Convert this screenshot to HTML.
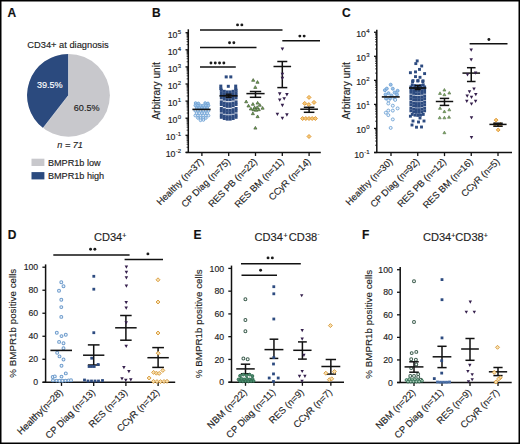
<!DOCTYPE html>
<html><head><meta charset="utf-8"><style>
html,body{margin:0;padding:0;background:#fff;}
body{width:520px;height:444px;overflow:hidden;position:relative;}
svg{display:block;font-family:"Liberation Sans", sans-serif;}
text{stroke:#1e1e1e;stroke-width:0.15px;}
text.w{stroke:#fff;}
</style></head><body>
<svg width="520" height="444" viewBox="0 0 520 444" font-family='"Liberation Sans", sans-serif'>
<rect x="0" y="0" width="520" height="444" fill="#fff"/>
<text x="7.40" y="17.20" font-size="12" text-anchor="start" font-weight="bold" fill="#111">A</text>
<text x="27.30" y="47.60" font-size="9.3" text-anchor="start" font-weight="normal" fill="#1e1e1e">CD34+ at diagnosis</text>
<circle cx="68.5" cy="95.3" r="41.4" fill="#c8c8cc"/>
<path d="M68.5,95.3 L68.5,53.9 A41.4,41.4 0 0 0 43.13,128.01 Z" fill="#2b4a7e"/>
<line x1="68.5" y1="95.3" x2="68.5" y2="53.9" stroke="#eee" stroke-width="0.6"/>
<line x1="68.5" y1="95.3" x2="43.13" y2="128.01" stroke="#eee" stroke-width="0.6"/>
<text class="w" x="49.8" y="87.7" font-size="9.1" text-anchor="middle" fill="#fff">39.5%</text>
<text x="73.80" y="111.30" font-size="9.1" text-anchor="start" font-weight="normal" fill="#1e1e1e">60.5%</text>
<text x="57.30" y="148.30" font-size="9.1" text-anchor="start" font-weight="normal" fill="#1e1e1e" font-style="italic">n = 71</text>
<rect x="31.5" y="158.7" width="12.9" height="7.3" fill="#c8c8cc"/>
<rect x="31.5" y="172.1" width="12.9" height="7.3" fill="#2b4a7e"/>
<text x="47.90" y="165.60" font-size="9.15" text-anchor="start" font-weight="normal" fill="#1e1e1e">BMPR1b low</text>
<text x="47.90" y="178.90" font-size="9.15" text-anchor="start" font-weight="normal" fill="#1e1e1e">BMPR1b high</text>
<text x="152.00" y="17.30" font-size="12" text-anchor="start" font-weight="bold" fill="#111">B</text>
<line x1="188.30" y1="29.30" x2="188.30" y2="152.40" stroke="#111" stroke-width="1.5"/>
<line x1="185.70" y1="152.40" x2="320.80" y2="152.40" stroke="#111" stroke-width="1.5"/>
<line x1="185.50" y1="152.40" x2="188.30" y2="152.40" stroke="#111" stroke-width="1.3"/>
<text x="181.10" y="157.40" font-size="8.8" text-anchor="end" fill="#1e1e1e">10<tspan font-size="6.0" dx="0.3" dy="-4.0">-2</tspan></text>
<line x1="186.60" y1="147.25" x2="188.30" y2="147.25" stroke="#111" stroke-width="0.8"/>
<line x1="186.60" y1="144.24" x2="188.30" y2="144.24" stroke="#111" stroke-width="0.8"/>
<line x1="186.60" y1="142.10" x2="188.30" y2="142.10" stroke="#111" stroke-width="0.8"/>
<line x1="186.60" y1="140.45" x2="188.30" y2="140.45" stroke="#111" stroke-width="0.8"/>
<line x1="186.60" y1="139.09" x2="188.30" y2="139.09" stroke="#111" stroke-width="0.8"/>
<line x1="186.60" y1="137.95" x2="188.30" y2="137.95" stroke="#111" stroke-width="0.8"/>
<line x1="186.60" y1="136.96" x2="188.30" y2="136.96" stroke="#111" stroke-width="0.8"/>
<line x1="186.60" y1="136.08" x2="188.30" y2="136.08" stroke="#111" stroke-width="0.8"/>
<line x1="185.50" y1="135.30" x2="188.30" y2="135.30" stroke="#111" stroke-width="1.3"/>
<text x="181.10" y="140.30" font-size="8.8" text-anchor="end" fill="#1e1e1e">10<tspan font-size="6.0" dx="0.3" dy="-4.0">-1</tspan></text>
<line x1="186.60" y1="130.15" x2="188.30" y2="130.15" stroke="#111" stroke-width="0.8"/>
<line x1="186.60" y1="127.14" x2="188.30" y2="127.14" stroke="#111" stroke-width="0.8"/>
<line x1="186.60" y1="125.00" x2="188.30" y2="125.00" stroke="#111" stroke-width="0.8"/>
<line x1="186.60" y1="123.35" x2="188.30" y2="123.35" stroke="#111" stroke-width="0.8"/>
<line x1="186.60" y1="121.99" x2="188.30" y2="121.99" stroke="#111" stroke-width="0.8"/>
<line x1="186.60" y1="120.85" x2="188.30" y2="120.85" stroke="#111" stroke-width="0.8"/>
<line x1="186.60" y1="119.86" x2="188.30" y2="119.86" stroke="#111" stroke-width="0.8"/>
<line x1="186.60" y1="118.98" x2="188.30" y2="118.98" stroke="#111" stroke-width="0.8"/>
<line x1="185.50" y1="118.20" x2="188.30" y2="118.20" stroke="#111" stroke-width="1.3"/>
<text x="181.10" y="123.20" font-size="8.8" text-anchor="end" fill="#1e1e1e">10<tspan font-size="6.0" dx="0.3" dy="-4.0">0</tspan></text>
<line x1="186.60" y1="113.05" x2="188.30" y2="113.05" stroke="#111" stroke-width="0.8"/>
<line x1="186.60" y1="110.04" x2="188.30" y2="110.04" stroke="#111" stroke-width="0.8"/>
<line x1="186.60" y1="107.90" x2="188.30" y2="107.90" stroke="#111" stroke-width="0.8"/>
<line x1="186.60" y1="106.25" x2="188.30" y2="106.25" stroke="#111" stroke-width="0.8"/>
<line x1="186.60" y1="104.89" x2="188.30" y2="104.89" stroke="#111" stroke-width="0.8"/>
<line x1="186.60" y1="103.75" x2="188.30" y2="103.75" stroke="#111" stroke-width="0.8"/>
<line x1="186.60" y1="102.76" x2="188.30" y2="102.76" stroke="#111" stroke-width="0.8"/>
<line x1="186.60" y1="101.88" x2="188.30" y2="101.88" stroke="#111" stroke-width="0.8"/>
<line x1="185.50" y1="101.10" x2="188.30" y2="101.10" stroke="#111" stroke-width="1.3"/>
<text x="181.10" y="106.10" font-size="8.8" text-anchor="end" fill="#1e1e1e">10<tspan font-size="6.0" dx="0.3" dy="-4.0">1</tspan></text>
<line x1="186.60" y1="95.95" x2="188.30" y2="95.95" stroke="#111" stroke-width="0.8"/>
<line x1="186.60" y1="92.94" x2="188.30" y2="92.94" stroke="#111" stroke-width="0.8"/>
<line x1="186.60" y1="90.80" x2="188.30" y2="90.80" stroke="#111" stroke-width="0.8"/>
<line x1="186.60" y1="89.15" x2="188.30" y2="89.15" stroke="#111" stroke-width="0.8"/>
<line x1="186.60" y1="87.79" x2="188.30" y2="87.79" stroke="#111" stroke-width="0.8"/>
<line x1="186.60" y1="86.65" x2="188.30" y2="86.65" stroke="#111" stroke-width="0.8"/>
<line x1="186.60" y1="85.66" x2="188.30" y2="85.66" stroke="#111" stroke-width="0.8"/>
<line x1="186.60" y1="84.78" x2="188.30" y2="84.78" stroke="#111" stroke-width="0.8"/>
<line x1="185.50" y1="84.00" x2="188.30" y2="84.00" stroke="#111" stroke-width="1.3"/>
<text x="181.10" y="89.00" font-size="8.8" text-anchor="end" fill="#1e1e1e">10<tspan font-size="6.0" dx="0.3" dy="-4.0">2</tspan></text>
<line x1="186.60" y1="78.85" x2="188.30" y2="78.85" stroke="#111" stroke-width="0.8"/>
<line x1="186.60" y1="75.84" x2="188.30" y2="75.84" stroke="#111" stroke-width="0.8"/>
<line x1="186.60" y1="73.70" x2="188.30" y2="73.70" stroke="#111" stroke-width="0.8"/>
<line x1="186.60" y1="72.05" x2="188.30" y2="72.05" stroke="#111" stroke-width="0.8"/>
<line x1="186.60" y1="70.69" x2="188.30" y2="70.69" stroke="#111" stroke-width="0.8"/>
<line x1="186.60" y1="69.55" x2="188.30" y2="69.55" stroke="#111" stroke-width="0.8"/>
<line x1="186.60" y1="68.56" x2="188.30" y2="68.56" stroke="#111" stroke-width="0.8"/>
<line x1="186.60" y1="67.68" x2="188.30" y2="67.68" stroke="#111" stroke-width="0.8"/>
<line x1="185.50" y1="66.90" x2="188.30" y2="66.90" stroke="#111" stroke-width="1.3"/>
<text x="181.10" y="71.90" font-size="8.8" text-anchor="end" fill="#1e1e1e">10<tspan font-size="6.0" dx="0.3" dy="-4.0">3</tspan></text>
<line x1="186.60" y1="61.75" x2="188.30" y2="61.75" stroke="#111" stroke-width="0.8"/>
<line x1="186.60" y1="58.74" x2="188.30" y2="58.74" stroke="#111" stroke-width="0.8"/>
<line x1="186.60" y1="56.60" x2="188.30" y2="56.60" stroke="#111" stroke-width="0.8"/>
<line x1="186.60" y1="54.95" x2="188.30" y2="54.95" stroke="#111" stroke-width="0.8"/>
<line x1="186.60" y1="53.59" x2="188.30" y2="53.59" stroke="#111" stroke-width="0.8"/>
<line x1="186.60" y1="52.45" x2="188.30" y2="52.45" stroke="#111" stroke-width="0.8"/>
<line x1="186.60" y1="51.46" x2="188.30" y2="51.46" stroke="#111" stroke-width="0.8"/>
<line x1="186.60" y1="50.58" x2="188.30" y2="50.58" stroke="#111" stroke-width="0.8"/>
<line x1="185.50" y1="49.80" x2="188.30" y2="49.80" stroke="#111" stroke-width="1.3"/>
<text x="181.10" y="54.80" font-size="8.8" text-anchor="end" fill="#1e1e1e">10<tspan font-size="6.0" dx="0.3" dy="-4.0">4</tspan></text>
<line x1="186.60" y1="44.65" x2="188.30" y2="44.65" stroke="#111" stroke-width="0.8"/>
<line x1="186.60" y1="41.64" x2="188.30" y2="41.64" stroke="#111" stroke-width="0.8"/>
<line x1="186.60" y1="39.50" x2="188.30" y2="39.50" stroke="#111" stroke-width="0.8"/>
<line x1="186.60" y1="37.85" x2="188.30" y2="37.85" stroke="#111" stroke-width="0.8"/>
<line x1="186.60" y1="36.49" x2="188.30" y2="36.49" stroke="#111" stroke-width="0.8"/>
<line x1="186.60" y1="35.35" x2="188.30" y2="35.35" stroke="#111" stroke-width="0.8"/>
<line x1="186.60" y1="34.36" x2="188.30" y2="34.36" stroke="#111" stroke-width="0.8"/>
<line x1="186.60" y1="33.48" x2="188.30" y2="33.48" stroke="#111" stroke-width="0.8"/>
<line x1="185.50" y1="32.70" x2="188.30" y2="32.70" stroke="#111" stroke-width="1.3"/>
<text x="181.10" y="37.70" font-size="8.8" text-anchor="end" fill="#1e1e1e">10<tspan font-size="6.0" dx="0.3" dy="-4.0">5</tspan></text>
<line x1="201.90" y1="152.40" x2="201.90" y2="156.00" stroke="#111" stroke-width="1.3"/>
<line x1="228.70" y1="152.40" x2="228.70" y2="156.00" stroke="#111" stroke-width="1.3"/>
<line x1="255.50" y1="152.40" x2="255.50" y2="156.00" stroke="#111" stroke-width="1.3"/>
<line x1="282.30" y1="152.40" x2="282.30" y2="156.00" stroke="#111" stroke-width="1.3"/>
<line x1="309.10" y1="152.40" x2="309.10" y2="156.00" stroke="#111" stroke-width="1.3"/>
<text transform="translate(204.10,162.20) rotate(-45)" font-size="9.4" text-anchor="end" fill="#1e1e1e">Healthy (n=37)</text>
<text transform="translate(230.90,162.20) rotate(-45)" font-size="9.4" text-anchor="end" fill="#1e1e1e">CP Diag (n=75)</text>
<text transform="translate(257.70,162.20) rotate(-45)" font-size="9.4" text-anchor="end" fill="#1e1e1e">RES PB (n=22)</text>
<text transform="translate(284.50,162.20) rotate(-45)" font-size="9.4" text-anchor="end" fill="#1e1e1e">RES BM (n=11)</text>
<text transform="translate(311.30,162.20) rotate(-45)" font-size="9.4" text-anchor="end" fill="#1e1e1e">CCyR (n=14)</text>
<text transform="translate(160.30,91.00) rotate(-90)" font-size="10" text-anchor="middle" textLength="57.4" lengthAdjust="spacingAndGlyphs" fill="#1e1e1e">Arbitrary unit</text>
<line x1="200.00" y1="30.00" x2="282.50" y2="30.00" stroke="#111" stroke-width="1.5"/>
<circle cx="237.55" cy="24.90" r="1.45" fill="#1a1a1a"/>
<circle cx="241.85" cy="24.90" r="1.45" fill="#1a1a1a"/>
<line x1="200.00" y1="47.40" x2="256.50" y2="47.40" stroke="#111" stroke-width="1.5"/>
<circle cx="229.55" cy="42.70" r="1.45" fill="#1a1a1a"/>
<circle cx="233.85" cy="42.70" r="1.45" fill="#1a1a1a"/>
<line x1="200.00" y1="67.00" x2="235.80" y2="67.00" stroke="#111" stroke-width="1.5"/>
<circle cx="210.95" cy="63.00" r="1.45" fill="#1a1a1a"/>
<circle cx="215.25" cy="63.00" r="1.45" fill="#1a1a1a"/>
<circle cx="219.55" cy="63.00" r="1.45" fill="#1a1a1a"/>
<circle cx="223.85" cy="63.00" r="1.45" fill="#1a1a1a"/>
<line x1="282.30" y1="40.80" x2="320.00" y2="40.80" stroke="#111" stroke-width="1.5"/>
<circle cx="299.85" cy="36.10" r="1.45" fill="#1a1a1a"/>
<circle cx="304.15" cy="36.10" r="1.45" fill="#1a1a1a"/>
<circle cx="195.28" cy="110.80" r="1.35" fill="#dde9f7" stroke="#6a9fd3" stroke-width="0.85"/>
<circle cx="197.93" cy="110.80" r="1.35" fill="#dde9f7" stroke="#6a9fd3" stroke-width="0.85"/>
<circle cx="200.58" cy="110.80" r="1.35" fill="#dde9f7" stroke="#6a9fd3" stroke-width="0.85"/>
<circle cx="203.22" cy="110.80" r="1.35" fill="#dde9f7" stroke="#6a9fd3" stroke-width="0.85"/>
<circle cx="205.88" cy="110.80" r="1.35" fill="#dde9f7" stroke="#6a9fd3" stroke-width="0.85"/>
<circle cx="208.53" cy="110.80" r="1.35" fill="#dde9f7" stroke="#6a9fd3" stroke-width="0.85"/>
<circle cx="196.60" cy="113.20" r="1.35" fill="#dde9f7" stroke="#6a9fd3" stroke-width="0.85"/>
<circle cx="199.25" cy="113.20" r="1.35" fill="#dde9f7" stroke="#6a9fd3" stroke-width="0.85"/>
<circle cx="201.90" cy="113.20" r="1.35" fill="#dde9f7" stroke="#6a9fd3" stroke-width="0.85"/>
<circle cx="204.55" cy="113.20" r="1.35" fill="#dde9f7" stroke="#6a9fd3" stroke-width="0.85"/>
<circle cx="207.20" cy="113.20" r="1.35" fill="#dde9f7" stroke="#6a9fd3" stroke-width="0.85"/>
<circle cx="195.28" cy="115.60" r="1.35" fill="#dde9f7" stroke="#6a9fd3" stroke-width="0.85"/>
<circle cx="197.93" cy="115.60" r="1.35" fill="#dde9f7" stroke="#6a9fd3" stroke-width="0.85"/>
<circle cx="200.58" cy="115.60" r="1.35" fill="#dde9f7" stroke="#6a9fd3" stroke-width="0.85"/>
<circle cx="203.22" cy="115.60" r="1.35" fill="#dde9f7" stroke="#6a9fd3" stroke-width="0.85"/>
<circle cx="205.88" cy="115.60" r="1.35" fill="#dde9f7" stroke="#6a9fd3" stroke-width="0.85"/>
<circle cx="208.53" cy="115.60" r="1.35" fill="#dde9f7" stroke="#6a9fd3" stroke-width="0.85"/>
<circle cx="197.93" cy="118.00" r="1.35" fill="#dde9f7" stroke="#6a9fd3" stroke-width="0.85"/>
<circle cx="200.58" cy="118.00" r="1.35" fill="#dde9f7" stroke="#6a9fd3" stroke-width="0.85"/>
<circle cx="203.22" cy="118.00" r="1.35" fill="#dde9f7" stroke="#6a9fd3" stroke-width="0.85"/>
<circle cx="205.88" cy="118.00" r="1.35" fill="#dde9f7" stroke="#6a9fd3" stroke-width="0.85"/>
<circle cx="200.50" cy="120.30" r="1.35" fill="#dde9f7" stroke="#6a9fd3" stroke-width="0.85"/>
<circle cx="203.40" cy="120.00" r="1.35" fill="#dde9f7" stroke="#6a9fd3" stroke-width="0.85"/>
<circle cx="195.60" cy="103.00" r="1.35" fill="#a3c6e8" stroke="#6a9fd3" stroke-width="0.85"/>
<circle cx="198.40" cy="103.40" r="1.35" fill="#a3c6e8" stroke="#6a9fd3" stroke-width="0.85"/>
<circle cx="205.20" cy="103.00" r="1.35" fill="#a3c6e8" stroke="#6a9fd3" stroke-width="0.85"/>
<circle cx="208.00" cy="103.40" r="1.35" fill="#a3c6e8" stroke="#6a9fd3" stroke-width="0.85"/>
<circle cx="195.28" cy="105.50" r="1.35" fill="#a3c6e8" stroke="#6a9fd3" stroke-width="0.85"/>
<circle cx="197.93" cy="105.50" r="1.35" fill="#a3c6e8" stroke="#6a9fd3" stroke-width="0.85"/>
<circle cx="200.58" cy="105.50" r="1.35" fill="#a3c6e8" stroke="#6a9fd3" stroke-width="0.85"/>
<circle cx="203.22" cy="105.50" r="1.35" fill="#a3c6e8" stroke="#6a9fd3" stroke-width="0.85"/>
<circle cx="205.88" cy="105.50" r="1.35" fill="#a3c6e8" stroke="#6a9fd3" stroke-width="0.85"/>
<circle cx="208.53" cy="105.50" r="1.35" fill="#a3c6e8" stroke="#6a9fd3" stroke-width="0.85"/>
<circle cx="196.60" cy="107.90" r="1.35" fill="#a3c6e8" stroke="#6a9fd3" stroke-width="0.85"/>
<circle cx="199.25" cy="107.90" r="1.35" fill="#a3c6e8" stroke="#6a9fd3" stroke-width="0.85"/>
<circle cx="201.90" cy="107.90" r="1.35" fill="#a3c6e8" stroke="#6a9fd3" stroke-width="0.85"/>
<circle cx="204.55" cy="107.90" r="1.35" fill="#a3c6e8" stroke="#6a9fd3" stroke-width="0.85"/>
<circle cx="207.20" cy="107.90" r="1.35" fill="#a3c6e8" stroke="#6a9fd3" stroke-width="0.85"/>
<line x1="192.40" y1="109.40" x2="210.60" y2="109.40" stroke="#111" stroke-width="1.6"/>
<rect x="224.70" y="75.40" width="3.0" height="3.0" fill="#2d4b80"/>
<rect x="229.30" y="75.40" width="3.0" height="3.0" fill="#2d4b80"/>
<rect x="219.30" y="84.60" width="3.0" height="3.0" fill="#2d4b80"/>
<rect x="226.80" y="84.80" width="3.0" height="3.0" fill="#2d4b80"/>
<rect x="234.20" y="84.60" width="3.0" height="3.0" fill="#2d4b80"/>
<rect x="219.30" y="87.10" width="3.0" height="3.0" fill="#2d4b80"/>
<rect x="234.20" y="87.10" width="3.0" height="3.0" fill="#2d4b80"/>
<rect x="219.83" y="88.59" width="3.0" height="3.0" fill="#2d4b80"/>
<rect x="222.78" y="89.81" width="3.0" height="3.0" fill="#2d4b80"/>
<rect x="225.73" y="90.42" width="3.0" height="3.0" fill="#2d4b80"/>
<rect x="228.68" y="90.42" width="3.0" height="3.0" fill="#2d4b80"/>
<rect x="231.63" y="89.81" width="3.0" height="3.0" fill="#2d4b80"/>
<rect x="234.58" y="88.59" width="3.0" height="3.0" fill="#2d4b80"/>
<rect x="219.83" y="91.19" width="3.0" height="3.0" fill="#2d4b80"/>
<rect x="222.78" y="92.41" width="3.0" height="3.0" fill="#2d4b80"/>
<rect x="225.73" y="93.02" width="3.0" height="3.0" fill="#2d4b80"/>
<rect x="228.68" y="93.02" width="3.0" height="3.0" fill="#2d4b80"/>
<rect x="231.63" y="92.41" width="3.0" height="3.0" fill="#2d4b80"/>
<rect x="234.58" y="91.19" width="3.0" height="3.0" fill="#2d4b80"/>
<rect x="219.83" y="93.79" width="3.0" height="3.0" fill="#2d4b80"/>
<rect x="222.78" y="95.01" width="3.0" height="3.0" fill="#2d4b80"/>
<rect x="225.73" y="95.62" width="3.0" height="3.0" fill="#2d4b80"/>
<rect x="228.68" y="95.62" width="3.0" height="3.0" fill="#2d4b80"/>
<rect x="231.63" y="95.01" width="3.0" height="3.0" fill="#2d4b80"/>
<rect x="234.58" y="93.79" width="3.0" height="3.0" fill="#2d4b80"/>
<rect x="219.83" y="96.39" width="3.0" height="3.0" fill="#2d4b80"/>
<rect x="222.78" y="97.61" width="3.0" height="3.0" fill="#2d4b80"/>
<rect x="225.73" y="98.22" width="3.0" height="3.0" fill="#2d4b80"/>
<rect x="228.68" y="98.22" width="3.0" height="3.0" fill="#2d4b80"/>
<rect x="231.63" y="97.61" width="3.0" height="3.0" fill="#2d4b80"/>
<rect x="234.58" y="96.39" width="3.0" height="3.0" fill="#2d4b80"/>
<rect x="219.83" y="100.39" width="3.0" height="3.0" fill="#2d4b80"/>
<rect x="222.78" y="101.61" width="3.0" height="3.0" fill="#2d4b80"/>
<rect x="225.73" y="102.22" width="3.0" height="3.0" fill="#2d4b80"/>
<rect x="228.68" y="102.22" width="3.0" height="3.0" fill="#2d4b80"/>
<rect x="231.63" y="101.61" width="3.0" height="3.0" fill="#2d4b80"/>
<rect x="234.58" y="100.39" width="3.0" height="3.0" fill="#2d4b80"/>
<rect x="219.83" y="102.99" width="3.0" height="3.0" fill="#2d4b80"/>
<rect x="222.78" y="104.21" width="3.0" height="3.0" fill="#2d4b80"/>
<rect x="225.73" y="104.82" width="3.0" height="3.0" fill="#2d4b80"/>
<rect x="228.68" y="104.82" width="3.0" height="3.0" fill="#2d4b80"/>
<rect x="231.63" y="104.21" width="3.0" height="3.0" fill="#2d4b80"/>
<rect x="234.58" y="102.99" width="3.0" height="3.0" fill="#2d4b80"/>
<rect x="219.83" y="106.99" width="3.0" height="3.0" fill="#2d4b80"/>
<rect x="222.78" y="108.21" width="3.0" height="3.0" fill="#2d4b80"/>
<rect x="225.73" y="108.82" width="3.0" height="3.0" fill="#2d4b80"/>
<rect x="228.68" y="108.82" width="3.0" height="3.0" fill="#2d4b80"/>
<rect x="231.63" y="108.21" width="3.0" height="3.0" fill="#2d4b80"/>
<rect x="234.58" y="106.99" width="3.0" height="3.0" fill="#2d4b80"/>
<rect x="219.83" y="109.59" width="3.0" height="3.0" fill="#2d4b80"/>
<rect x="222.78" y="110.81" width="3.0" height="3.0" fill="#2d4b80"/>
<rect x="225.73" y="111.42" width="3.0" height="3.0" fill="#2d4b80"/>
<rect x="228.68" y="111.42" width="3.0" height="3.0" fill="#2d4b80"/>
<rect x="231.63" y="110.81" width="3.0" height="3.0" fill="#2d4b80"/>
<rect x="234.58" y="109.59" width="3.0" height="3.0" fill="#2d4b80"/>
<rect x="219.83" y="113.39" width="3.0" height="3.0" fill="#2d4b80"/>
<rect x="222.78" y="114.61" width="3.0" height="3.0" fill="#2d4b80"/>
<rect x="225.73" y="115.22" width="3.0" height="3.0" fill="#2d4b80"/>
<rect x="228.68" y="115.22" width="3.0" height="3.0" fill="#2d4b80"/>
<rect x="231.63" y="114.61" width="3.0" height="3.0" fill="#2d4b80"/>
<rect x="234.58" y="113.39" width="3.0" height="3.0" fill="#2d4b80"/>
<rect x="219.83" y="115.79" width="3.0" height="3.0" fill="#2d4b80"/>
<rect x="222.78" y="117.01" width="3.0" height="3.0" fill="#2d4b80"/>
<rect x="225.73" y="117.62" width="3.0" height="3.0" fill="#2d4b80"/>
<rect x="228.68" y="117.62" width="3.0" height="3.0" fill="#2d4b80"/>
<rect x="231.63" y="117.01" width="3.0" height="3.0" fill="#2d4b80"/>
<rect x="234.58" y="115.79" width="3.0" height="3.0" fill="#2d4b80"/>
<line x1="219.50" y1="95.80" x2="237.50" y2="95.80" stroke="#111" stroke-width="1.7"/>
<line x1="228.70" y1="94.20" x2="228.70" y2="97.40" stroke="#111" stroke-width="1.3"/>
<line x1="225.70" y1="94.20" x2="231.70" y2="94.20" stroke="#111" stroke-width="1.3"/>
<line x1="225.70" y1="97.40" x2="231.70" y2="97.40" stroke="#111" stroke-width="1.3"/>
<polygon points="253.20,78.58 254.75,81.28 251.65,81.28" fill="#72b04e" stroke="#46583c" stroke-width="0.7"/>
<polygon points="257.50,80.58 259.05,83.28 255.95,83.28" fill="#72b04e" stroke="#46583c" stroke-width="0.7"/>
<polygon points="255.30,85.68 256.85,88.38 253.75,88.38" fill="#72b04e" stroke="#46583c" stroke-width="0.7"/>
<polygon points="246.20,100.08 247.75,102.78 244.65,102.78" fill="#72b04e" stroke="#46583c" stroke-width="0.7"/>
<polygon points="252.90,102.58 254.45,105.28 251.35,105.28" fill="#72b04e" stroke="#46583c" stroke-width="0.7"/>
<polygon points="257.60,101.38 259.15,104.08 256.05,104.08" fill="#72b04e" stroke="#46583c" stroke-width="0.7"/>
<polygon points="248.50,104.28 250.05,106.98 246.95,106.98" fill="#72b04e" stroke="#46583c" stroke-width="0.7"/>
<polygon points="259.80,103.58 261.35,106.28 258.25,106.28" fill="#72b04e" stroke="#46583c" stroke-width="0.7"/>
<polygon points="262.60,106.48 264.15,109.18 261.05,109.18" fill="#72b04e" stroke="#46583c" stroke-width="0.7"/>
<polygon points="250.90,107.28 252.45,109.98 249.35,109.98" fill="#72b04e" stroke="#46583c" stroke-width="0.7"/>
<polygon points="253.50,108.18 255.05,110.88 251.95,110.88" fill="#72b04e" stroke="#46583c" stroke-width="0.7"/>
<polygon points="256.20,108.58 257.75,111.28 254.65,111.28" fill="#72b04e" stroke="#46583c" stroke-width="0.7"/>
<polygon points="258.80,107.98 260.35,110.68 257.25,110.68" fill="#72b04e" stroke="#46583c" stroke-width="0.7"/>
<polygon points="254.60,105.98 256.15,108.68 253.05,108.68" fill="#72b04e" stroke="#46583c" stroke-width="0.7"/>
<polygon points="257.20,105.78 258.75,108.48 255.65,108.48" fill="#72b04e" stroke="#46583c" stroke-width="0.7"/>
<polygon points="252.90,111.98 254.45,114.68 251.35,114.68" fill="#72b04e" stroke="#46583c" stroke-width="0.7"/>
<polygon points="257.60,114.98 259.15,117.68 256.05,117.68" fill="#72b04e" stroke="#46583c" stroke-width="0.7"/>
<polygon points="255.40,126.38 256.95,129.08 253.85,129.08" fill="#72b04e" stroke="#46583c" stroke-width="0.7"/>
<line x1="255.50" y1="91.50" x2="255.50" y2="97.30" stroke="#111" stroke-width="1.5"/>
<line x1="249.80" y1="91.50" x2="261.20" y2="91.50" stroke="#111" stroke-width="1.5"/>
<line x1="249.80" y1="97.30" x2="261.20" y2="97.30" stroke="#111" stroke-width="1.5"/>
<line x1="246.40" y1="93.60" x2="264.60" y2="93.60" stroke="#111" stroke-width="1.5"/>
<line x1="282.30" y1="61.50" x2="282.30" y2="87.60" stroke="#111" stroke-width="1.5"/>
<line x1="277.30" y1="61.50" x2="287.30" y2="61.50" stroke="#111" stroke-width="1.5"/>
<line x1="277.30" y1="87.60" x2="287.30" y2="87.60" stroke="#111" stroke-width="1.5"/>
<line x1="273.50" y1="66.50" x2="291.10" y2="66.50" stroke="#111" stroke-width="1.5"/>
<polygon points="280.60,47.47 284.20,47.47 282.40,50.79" fill="#36204d"/>
<polygon points="280.60,72.77 284.20,72.77 282.40,76.09" fill="#36204d"/>
<polygon points="280.60,76.87 284.20,76.87 282.40,80.19" fill="#36204d"/>
<polygon points="277.90,92.37 281.50,92.37 279.70,95.69" fill="#36204d"/>
<polygon points="285.10,93.07 288.70,93.07 286.90,96.39" fill="#36204d"/>
<polygon points="277.90,98.47 281.50,98.47 279.70,101.79" fill="#36204d"/>
<polygon points="282.40,97.17 286.00,97.17 284.20,100.49" fill="#36204d"/>
<polygon points="280.60,103.87 284.20,103.87 282.40,107.19" fill="#36204d"/>
<polygon points="275.60,112.67 279.20,112.67 277.40,115.99" fill="#36204d"/>
<polygon points="285.10,113.37 288.70,113.37 286.90,116.69" fill="#36204d"/>
<polygon points="280.60,116.67 284.20,116.67 282.40,119.99" fill="#36204d"/>
<polygon points="309.00,95.40 311.00,97.40 309.00,99.40 307.00,97.40" fill="#f5c878" stroke="#dc9026" stroke-width="0.85"/>
<polygon points="304.70,101.40 306.70,103.40 304.70,105.40 302.70,103.40" fill="#f5c878" stroke="#dc9026" stroke-width="0.85"/>
<polygon points="308.80,102.60 310.80,104.60 308.80,106.60 306.80,104.60" fill="#f5c878" stroke="#dc9026" stroke-width="0.85"/>
<polygon points="314.00,100.40 316.00,102.40 314.00,104.40 312.00,102.40" fill="#f5c878" stroke="#dc9026" stroke-width="0.85"/>
<polygon points="302.60,116.50 304.60,118.50 302.60,120.50 300.60,118.50" fill="#f5c878" stroke="#dc9026" stroke-width="0.85"/>
<polygon points="305.80,116.50 307.80,118.50 305.80,120.50 303.80,118.50" fill="#f5c878" stroke="#dc9026" stroke-width="0.85"/>
<polygon points="309.00,116.50 311.00,118.50 309.00,120.50 307.00,118.50" fill="#f5c878" stroke="#dc9026" stroke-width="0.85"/>
<polygon points="312.20,116.50 314.20,118.50 312.20,120.50 310.20,118.50" fill="#f5c878" stroke="#dc9026" stroke-width="0.85"/>
<polygon points="315.40,116.50 317.40,118.50 315.40,120.50 313.40,118.50" fill="#f5c878" stroke="#dc9026" stroke-width="0.85"/>
<polygon points="309.00,134.50 311.00,136.50 309.00,138.50 307.00,136.50" fill="#f5c878" stroke="#dc9026" stroke-width="0.85"/>
<line x1="309.10" y1="107.30" x2="309.10" y2="112.30" stroke="#111" stroke-width="1.5"/>
<line x1="303.80" y1="107.30" x2="314.40" y2="107.30" stroke="#111" stroke-width="1.5"/>
<line x1="303.80" y1="112.30" x2="314.40" y2="112.30" stroke="#111" stroke-width="1.5"/>
<line x1="300.25" y1="109.20" x2="317.95" y2="109.20" stroke="#111" stroke-width="1.5"/>
<text x="342.00" y="17.00" font-size="12" text-anchor="start" font-weight="bold" fill="#111">C</text>
<line x1="376.80" y1="29.80" x2="376.80" y2="152.50" stroke="#111" stroke-width="1.5"/>
<line x1="374.20" y1="152.50" x2="512.00" y2="152.50" stroke="#111" stroke-width="1.5"/>
<line x1="374.00" y1="152.50" x2="376.80" y2="152.50" stroke="#111" stroke-width="1.3"/>
<text x="369.60" y="157.50" font-size="8.8" text-anchor="end" fill="#1e1e1e">10<tspan font-size="6.0" dx="0.3" dy="-4.0">-1</tspan></text>
<line x1="375.10" y1="145.26" x2="376.80" y2="145.26" stroke="#111" stroke-width="0.8"/>
<line x1="375.10" y1="141.03" x2="376.80" y2="141.03" stroke="#111" stroke-width="0.8"/>
<line x1="375.10" y1="138.02" x2="376.80" y2="138.02" stroke="#111" stroke-width="0.8"/>
<line x1="375.10" y1="135.69" x2="376.80" y2="135.69" stroke="#111" stroke-width="0.8"/>
<line x1="375.10" y1="133.79" x2="376.80" y2="133.79" stroke="#111" stroke-width="0.8"/>
<line x1="375.10" y1="132.18" x2="376.80" y2="132.18" stroke="#111" stroke-width="0.8"/>
<line x1="375.10" y1="130.78" x2="376.80" y2="130.78" stroke="#111" stroke-width="0.8"/>
<line x1="375.10" y1="129.55" x2="376.80" y2="129.55" stroke="#111" stroke-width="0.8"/>
<line x1="374.00" y1="128.45" x2="376.80" y2="128.45" stroke="#111" stroke-width="1.3"/>
<text x="369.60" y="133.45" font-size="8.8" text-anchor="end" fill="#1e1e1e">10<tspan font-size="6.0" dx="0.3" dy="-4.0">0</tspan></text>
<line x1="375.10" y1="121.21" x2="376.80" y2="121.21" stroke="#111" stroke-width="0.8"/>
<line x1="375.10" y1="116.98" x2="376.80" y2="116.98" stroke="#111" stroke-width="0.8"/>
<line x1="375.10" y1="113.97" x2="376.80" y2="113.97" stroke="#111" stroke-width="0.8"/>
<line x1="375.10" y1="111.64" x2="376.80" y2="111.64" stroke="#111" stroke-width="0.8"/>
<line x1="375.10" y1="109.74" x2="376.80" y2="109.74" stroke="#111" stroke-width="0.8"/>
<line x1="375.10" y1="108.13" x2="376.80" y2="108.13" stroke="#111" stroke-width="0.8"/>
<line x1="375.10" y1="106.73" x2="376.80" y2="106.73" stroke="#111" stroke-width="0.8"/>
<line x1="375.10" y1="105.50" x2="376.80" y2="105.50" stroke="#111" stroke-width="0.8"/>
<line x1="374.00" y1="104.40" x2="376.80" y2="104.40" stroke="#111" stroke-width="1.3"/>
<text x="369.60" y="109.40" font-size="8.8" text-anchor="end" fill="#1e1e1e">10<tspan font-size="6.0" dx="0.3" dy="-4.0">1</tspan></text>
<line x1="375.10" y1="97.16" x2="376.80" y2="97.16" stroke="#111" stroke-width="0.8"/>
<line x1="375.10" y1="92.93" x2="376.80" y2="92.93" stroke="#111" stroke-width="0.8"/>
<line x1="375.10" y1="89.92" x2="376.80" y2="89.92" stroke="#111" stroke-width="0.8"/>
<line x1="375.10" y1="87.59" x2="376.80" y2="87.59" stroke="#111" stroke-width="0.8"/>
<line x1="375.10" y1="85.69" x2="376.80" y2="85.69" stroke="#111" stroke-width="0.8"/>
<line x1="375.10" y1="84.08" x2="376.80" y2="84.08" stroke="#111" stroke-width="0.8"/>
<line x1="375.10" y1="82.68" x2="376.80" y2="82.68" stroke="#111" stroke-width="0.8"/>
<line x1="375.10" y1="81.45" x2="376.80" y2="81.45" stroke="#111" stroke-width="0.8"/>
<line x1="374.00" y1="80.35" x2="376.80" y2="80.35" stroke="#111" stroke-width="1.3"/>
<text x="369.60" y="85.35" font-size="8.8" text-anchor="end" fill="#1e1e1e">10<tspan font-size="6.0" dx="0.3" dy="-4.0">2</tspan></text>
<line x1="375.10" y1="73.11" x2="376.80" y2="73.11" stroke="#111" stroke-width="0.8"/>
<line x1="375.10" y1="68.88" x2="376.80" y2="68.88" stroke="#111" stroke-width="0.8"/>
<line x1="375.10" y1="65.87" x2="376.80" y2="65.87" stroke="#111" stroke-width="0.8"/>
<line x1="375.10" y1="63.54" x2="376.80" y2="63.54" stroke="#111" stroke-width="0.8"/>
<line x1="375.10" y1="61.64" x2="376.80" y2="61.64" stroke="#111" stroke-width="0.8"/>
<line x1="375.10" y1="60.03" x2="376.80" y2="60.03" stroke="#111" stroke-width="0.8"/>
<line x1="375.10" y1="58.63" x2="376.80" y2="58.63" stroke="#111" stroke-width="0.8"/>
<line x1="375.10" y1="57.40" x2="376.80" y2="57.40" stroke="#111" stroke-width="0.8"/>
<line x1="374.00" y1="56.30" x2="376.80" y2="56.30" stroke="#111" stroke-width="1.3"/>
<text x="369.60" y="61.30" font-size="8.8" text-anchor="end" fill="#1e1e1e">10<tspan font-size="6.0" dx="0.3" dy="-4.0">3</tspan></text>
<line x1="375.10" y1="49.06" x2="376.80" y2="49.06" stroke="#111" stroke-width="0.8"/>
<line x1="375.10" y1="44.83" x2="376.80" y2="44.83" stroke="#111" stroke-width="0.8"/>
<line x1="375.10" y1="41.82" x2="376.80" y2="41.82" stroke="#111" stroke-width="0.8"/>
<line x1="375.10" y1="39.49" x2="376.80" y2="39.49" stroke="#111" stroke-width="0.8"/>
<line x1="375.10" y1="37.59" x2="376.80" y2="37.59" stroke="#111" stroke-width="0.8"/>
<line x1="375.10" y1="35.98" x2="376.80" y2="35.98" stroke="#111" stroke-width="0.8"/>
<line x1="375.10" y1="34.58" x2="376.80" y2="34.58" stroke="#111" stroke-width="0.8"/>
<line x1="375.10" y1="33.35" x2="376.80" y2="33.35" stroke="#111" stroke-width="0.8"/>
<line x1="374.00" y1="32.25" x2="376.80" y2="32.25" stroke="#111" stroke-width="1.3"/>
<text x="369.60" y="37.25" font-size="8.8" text-anchor="end" fill="#1e1e1e">10<tspan font-size="6.0" dx="0.3" dy="-4.0">4</tspan></text>
<line x1="391.00" y1="152.50" x2="391.00" y2="156.10" stroke="#111" stroke-width="1.3"/>
<line x1="417.75" y1="152.50" x2="417.75" y2="156.10" stroke="#111" stroke-width="1.3"/>
<line x1="444.50" y1="152.50" x2="444.50" y2="156.10" stroke="#111" stroke-width="1.3"/>
<line x1="471.25" y1="152.50" x2="471.25" y2="156.10" stroke="#111" stroke-width="1.3"/>
<line x1="498.00" y1="152.50" x2="498.00" y2="156.10" stroke="#111" stroke-width="1.3"/>
<text transform="translate(393.20,162.30) rotate(-45)" font-size="9.4" text-anchor="end" fill="#1e1e1e">Healthy (n=30)</text>
<text transform="translate(419.95,162.30) rotate(-45)" font-size="9.4" text-anchor="end" fill="#1e1e1e">CP Diag (n=92)</text>
<text transform="translate(446.70,162.30) rotate(-45)" font-size="9.4" text-anchor="end" fill="#1e1e1e">RES PB (n=12)</text>
<text transform="translate(473.45,162.30) rotate(-45)" font-size="9.4" text-anchor="end" fill="#1e1e1e">RES BM (n=16)</text>
<text transform="translate(500.20,162.30) rotate(-45)" font-size="9.4" text-anchor="end" fill="#1e1e1e">CCyR (n=5)</text>
<text transform="translate(349.60,90.80) rotate(-90)" font-size="10" text-anchor="middle" textLength="57.4" lengthAdjust="spacingAndGlyphs" fill="#1e1e1e">Arbitrary unit</text>
<line x1="469.60" y1="43.70" x2="507.50" y2="43.70" stroke="#111" stroke-width="1.5"/>
<circle cx="488.90" cy="39.50" r="1.45" fill="#1a1a1a"/>
<circle cx="390.70" cy="84.70" r="1.5" fill="#9fc3e8" stroke="#6a9fd3" stroke-width="0.85"/>
<circle cx="384.90" cy="90.20" r="1.5" fill="#9fc3e8" stroke="#6a9fd3" stroke-width="0.85"/>
<circle cx="386.80" cy="88.60" r="1.5" fill="#9fc3e8" stroke="#6a9fd3" stroke-width="0.85"/>
<circle cx="392.80" cy="88.70" r="1.5" fill="#9fc3e8" stroke="#6a9fd3" stroke-width="0.85"/>
<circle cx="397.60" cy="90.80" r="1.5" fill="#9fc3e8" stroke="#6a9fd3" stroke-width="0.85"/>
<circle cx="388.50" cy="93.20" r="1.5" fill="#9fc3e8" stroke="#6a9fd3" stroke-width="0.85"/>
<circle cx="394.60" cy="92.60" r="1.5" fill="#9fc3e8" stroke="#6a9fd3" stroke-width="0.85"/>
<circle cx="385.50" cy="94.50" r="1.5" fill="#9fc3e8" stroke="#6a9fd3" stroke-width="0.85"/>
<circle cx="391.50" cy="95.50" r="1.5" fill="#9fc3e8" stroke="#6a9fd3" stroke-width="0.85"/>
<circle cx="397.00" cy="94.50" r="1.5" fill="#9fc3e8" stroke="#6a9fd3" stroke-width="0.85"/>
<circle cx="386.00" cy="98.50" r="1.5" fill="#9fc3e8" stroke="#6a9fd3" stroke-width="0.85"/>
<circle cx="390.00" cy="98.50" r="1.5" fill="#9fc3e8" stroke="#6a9fd3" stroke-width="0.85"/>
<circle cx="394.50" cy="98.80" r="1.5" fill="#9fc3e8" stroke="#6a9fd3" stroke-width="0.85"/>
<circle cx="388.50" cy="100.50" r="1.5" fill="#f2f7fc" stroke="#6a9fd3" stroke-width="0.85"/>
<circle cx="395.20" cy="99.90" r="1.5" fill="#f2f7fc" stroke="#6a9fd3" stroke-width="0.85"/>
<circle cx="388.30" cy="103.50" r="1.5" fill="#f2f7fc" stroke="#6a9fd3" stroke-width="0.85"/>
<circle cx="392.80" cy="105.70" r="1.5" fill="#f2f7fc" stroke="#6a9fd3" stroke-width="0.85"/>
<circle cx="397.60" cy="108.40" r="1.5" fill="#f2f7fc" stroke="#6a9fd3" stroke-width="0.85"/>
<circle cx="388.30" cy="110.60" r="1.5" fill="#f2f7fc" stroke="#6a9fd3" stroke-width="0.85"/>
<circle cx="392.80" cy="110.60" r="1.5" fill="#f2f7fc" stroke="#6a9fd3" stroke-width="0.85"/>
<circle cx="385.80" cy="112.70" r="1.5" fill="#f2f7fc" stroke="#6a9fd3" stroke-width="0.85"/>
<circle cx="388.30" cy="115.10" r="1.5" fill="#f2f7fc" stroke="#6a9fd3" stroke-width="0.85"/>
<circle cx="392.80" cy="119.40" r="1.5" fill="#f2f7fc" stroke="#6a9fd3" stroke-width="0.85"/>
<circle cx="390.70" cy="127.90" r="1.5" fill="#f2f7fc" stroke="#6a9fd3" stroke-width="0.85"/>
<line x1="381.80" y1="96.90" x2="399.70" y2="96.90" stroke="#111" stroke-width="1.6"/>
<rect x="415.75" y="59.45" width="2.9" height="2.9" fill="#2d4b80"/>
<rect x="414.35" y="62.15" width="2.9" height="2.9" fill="#2d4b80"/>
<rect x="420.25" y="64.55" width="2.9" height="2.9" fill="#2d4b80"/>
<rect x="418.05" y="67.95" width="2.9" height="2.9" fill="#2d4b80"/>
<rect x="408.95" y="71.25" width="2.9" height="2.9" fill="#2d4b80"/>
<rect x="414.05" y="70.45" width="2.9" height="2.9" fill="#2d4b80"/>
<rect x="423.15" y="72.15" width="2.9" height="2.9" fill="#2d4b80"/>
<rect x="414.05" y="75.15" width="2.9" height="2.9" fill="#2d4b80"/>
<rect x="418.55" y="75.85" width="2.9" height="2.9" fill="#2d4b80"/>
<rect x="411.55" y="79.15" width="2.9" height="2.9" fill="#2d4b80"/>
<rect x="416.55" y="79.15" width="2.9" height="2.9" fill="#2d4b80"/>
<rect x="421.55" y="79.35" width="2.9" height="2.9" fill="#2d4b80"/>
<rect x="411.15" y="80.15" width="2.9" height="2.9" fill="#2d4b80"/>
<rect x="416.35" y="79.55" width="2.9" height="2.9" fill="#2d4b80"/>
<rect x="421.35" y="80.15" width="2.9" height="2.9" fill="#2d4b80"/>
<rect x="410.80" y="83.36" width="2.9" height="2.9" fill="#2d4b80"/>
<rect x="413.55" y="84.10" width="2.9" height="2.9" fill="#2d4b80"/>
<rect x="416.30" y="84.35" width="2.9" height="2.9" fill="#2d4b80"/>
<rect x="419.05" y="84.10" width="2.9" height="2.9" fill="#2d4b80"/>
<rect x="421.80" y="83.36" width="2.9" height="2.9" fill="#2d4b80"/>
<rect x="409.43" y="85.50" width="2.9" height="2.9" fill="#2d4b80"/>
<rect x="412.18" y="86.49" width="2.9" height="2.9" fill="#2d4b80"/>
<rect x="414.93" y="86.99" width="2.9" height="2.9" fill="#2d4b80"/>
<rect x="417.68" y="86.99" width="2.9" height="2.9" fill="#2d4b80"/>
<rect x="420.43" y="86.49" width="2.9" height="2.9" fill="#2d4b80"/>
<rect x="423.18" y="85.50" width="2.9" height="2.9" fill="#2d4b80"/>
<rect x="409.43" y="88.20" width="2.9" height="2.9" fill="#2d4b80"/>
<rect x="412.18" y="89.19" width="2.9" height="2.9" fill="#2d4b80"/>
<rect x="414.93" y="89.69" width="2.9" height="2.9" fill="#2d4b80"/>
<rect x="417.68" y="89.69" width="2.9" height="2.9" fill="#2d4b80"/>
<rect x="420.43" y="89.19" width="2.9" height="2.9" fill="#2d4b80"/>
<rect x="423.18" y="88.20" width="2.9" height="2.9" fill="#2d4b80"/>
<rect x="409.43" y="90.90" width="2.9" height="2.9" fill="#2d4b80"/>
<rect x="412.18" y="91.89" width="2.9" height="2.9" fill="#2d4b80"/>
<rect x="414.93" y="92.39" width="2.9" height="2.9" fill="#2d4b80"/>
<rect x="417.68" y="92.39" width="2.9" height="2.9" fill="#2d4b80"/>
<rect x="420.43" y="91.89" width="2.9" height="2.9" fill="#2d4b80"/>
<rect x="423.18" y="90.90" width="2.9" height="2.9" fill="#2d4b80"/>
<rect x="409.43" y="94.50" width="2.9" height="2.9" fill="#2d4b80"/>
<rect x="412.18" y="95.49" width="2.9" height="2.9" fill="#2d4b80"/>
<rect x="414.93" y="95.99" width="2.9" height="2.9" fill="#2d4b80"/>
<rect x="417.68" y="95.99" width="2.9" height="2.9" fill="#2d4b80"/>
<rect x="420.43" y="95.49" width="2.9" height="2.9" fill="#2d4b80"/>
<rect x="423.18" y="94.50" width="2.9" height="2.9" fill="#2d4b80"/>
<rect x="409.43" y="97.20" width="2.9" height="2.9" fill="#2d4b80"/>
<rect x="412.18" y="98.19" width="2.9" height="2.9" fill="#2d4b80"/>
<rect x="414.93" y="98.69" width="2.9" height="2.9" fill="#2d4b80"/>
<rect x="417.68" y="98.69" width="2.9" height="2.9" fill="#2d4b80"/>
<rect x="420.43" y="98.19" width="2.9" height="2.9" fill="#2d4b80"/>
<rect x="423.18" y="97.20" width="2.9" height="2.9" fill="#2d4b80"/>
<rect x="409.43" y="100.60" width="2.9" height="2.9" fill="#2d4b80"/>
<rect x="412.18" y="101.59" width="2.9" height="2.9" fill="#2d4b80"/>
<rect x="414.93" y="102.09" width="2.9" height="2.9" fill="#2d4b80"/>
<rect x="417.68" y="102.09" width="2.9" height="2.9" fill="#2d4b80"/>
<rect x="420.43" y="101.59" width="2.9" height="2.9" fill="#2d4b80"/>
<rect x="423.18" y="100.60" width="2.9" height="2.9" fill="#2d4b80"/>
<rect x="409.43" y="103.30" width="2.9" height="2.9" fill="#2d4b80"/>
<rect x="412.18" y="104.29" width="2.9" height="2.9" fill="#2d4b80"/>
<rect x="414.93" y="104.79" width="2.9" height="2.9" fill="#2d4b80"/>
<rect x="417.68" y="104.79" width="2.9" height="2.9" fill="#2d4b80"/>
<rect x="420.43" y="104.29" width="2.9" height="2.9" fill="#2d4b80"/>
<rect x="423.18" y="103.30" width="2.9" height="2.9" fill="#2d4b80"/>
<rect x="409.43" y="106.70" width="2.9" height="2.9" fill="#2d4b80"/>
<rect x="412.18" y="107.69" width="2.9" height="2.9" fill="#2d4b80"/>
<rect x="414.93" y="108.19" width="2.9" height="2.9" fill="#2d4b80"/>
<rect x="417.68" y="108.19" width="2.9" height="2.9" fill="#2d4b80"/>
<rect x="420.43" y="107.69" width="2.9" height="2.9" fill="#2d4b80"/>
<rect x="423.18" y="106.70" width="2.9" height="2.9" fill="#2d4b80"/>
<rect x="409.43" y="109.40" width="2.9" height="2.9" fill="#2d4b80"/>
<rect x="412.18" y="110.39" width="2.9" height="2.9" fill="#2d4b80"/>
<rect x="414.93" y="110.89" width="2.9" height="2.9" fill="#2d4b80"/>
<rect x="417.68" y="110.89" width="2.9" height="2.9" fill="#2d4b80"/>
<rect x="420.43" y="110.39" width="2.9" height="2.9" fill="#2d4b80"/>
<rect x="423.18" y="109.40" width="2.9" height="2.9" fill="#2d4b80"/>
<rect x="410.80" y="112.96" width="2.9" height="2.9" fill="#2d4b80"/>
<rect x="413.55" y="113.70" width="2.9" height="2.9" fill="#2d4b80"/>
<rect x="416.30" y="113.95" width="2.9" height="2.9" fill="#2d4b80"/>
<rect x="419.05" y="113.70" width="2.9" height="2.9" fill="#2d4b80"/>
<rect x="421.80" y="112.96" width="2.9" height="2.9" fill="#2d4b80"/>
<rect x="408.95" y="114.75" width="2.9" height="2.9" fill="#2d4b80"/>
<rect x="418.55" y="116.55" width="2.9" height="2.9" fill="#2d4b80"/>
<rect x="411.55" y="119.55" width="2.9" height="2.9" fill="#2d4b80"/>
<rect x="417.05" y="120.55" width="2.9" height="2.9" fill="#2d4b80"/>
<rect x="422.55" y="119.55" width="2.9" height="2.9" fill="#2d4b80"/>
<rect x="410.55" y="123.55" width="2.9" height="2.9" fill="#2d4b80"/>
<rect x="415.05" y="125.75" width="2.9" height="2.9" fill="#2d4b80"/>
<rect x="420.05" y="125.55" width="2.9" height="2.9" fill="#2d4b80"/>
<line x1="409.00" y1="88.00" x2="426.30" y2="88.00" stroke="#111" stroke-width="1.7"/>
<line x1="417.75" y1="85.60" x2="417.75" y2="89.60" stroke="#111" stroke-width="1.3"/>
<line x1="414.75" y1="85.60" x2="420.75" y2="85.60" stroke="#111" stroke-width="1.3"/>
<line x1="414.75" y1="89.60" x2="420.75" y2="89.60" stroke="#111" stroke-width="1.3"/>
<polygon points="444.40,88.43 445.90,91.04 442.90,91.04" fill="#7fb060" stroke="#55704a" stroke-width="0.6"/>
<polygon points="440.00,91.83 441.50,94.44 438.50,94.44" fill="#7fb060" stroke="#55704a" stroke-width="0.6"/>
<polygon points="444.40,93.13 445.90,95.74 442.90,95.74" fill="#7fb060" stroke="#55704a" stroke-width="0.6"/>
<polygon points="449.30,91.43 450.80,94.04 447.80,94.04" fill="#7fb060" stroke="#55704a" stroke-width="0.6"/>
<polygon points="440.00,106.73 441.50,109.34 438.50,109.34" fill="#7fb060" stroke="#55704a" stroke-width="0.6"/>
<polygon points="449.30,108.23 450.80,110.84 447.80,110.84" fill="#7fb060" stroke="#55704a" stroke-width="0.6"/>
<polygon points="444.40,110.03 445.90,112.64 442.90,112.64" fill="#7fb060" stroke="#55704a" stroke-width="0.6"/>
<polygon points="439.70,116.23 441.20,118.84 438.20,118.84" fill="#7fb060" stroke="#55704a" stroke-width="0.6"/>
<polygon points="444.40,116.23 445.90,118.84 442.90,118.84" fill="#7fb060" stroke="#55704a" stroke-width="0.6"/>
<polygon points="449.00,115.63 450.50,118.24 447.50,118.24" fill="#7fb060" stroke="#55704a" stroke-width="0.6"/>
<polygon points="444.40,131.13 445.90,133.74 442.90,133.74" fill="#7fb060" stroke="#55704a" stroke-width="0.6"/>
<line x1="444.50" y1="98.40" x2="444.50" y2="105.40" stroke="#111" stroke-width="1.5"/>
<line x1="439.80" y1="98.40" x2="449.20" y2="98.40" stroke="#111" stroke-width="1.5"/>
<line x1="439.80" y1="105.40" x2="449.20" y2="105.40" stroke="#111" stroke-width="1.5"/>
<line x1="435.80" y1="101.50" x2="453.20" y2="101.50" stroke="#111" stroke-width="1.5"/>
<line x1="471.25" y1="67.70" x2="471.25" y2="81.50" stroke="#111" stroke-width="1.5"/>
<line x1="466.95" y1="67.70" x2="475.55" y2="67.70" stroke="#111" stroke-width="1.5"/>
<line x1="466.95" y1="81.50" x2="475.55" y2="81.50" stroke="#111" stroke-width="1.5"/>
<line x1="462.45" y1="73.10" x2="480.05" y2="73.10" stroke="#111" stroke-width="1.5"/>
<polygon points="469.45,48.41 472.95,48.41 471.20,51.63" fill="#36204d"/>
<polygon points="469.45,58.31 472.95,58.31 471.20,61.53" fill="#36204d"/>
<polygon points="465.75,73.21 469.25,73.21 467.50,76.43" fill="#36204d"/>
<polygon points="473.85,71.41 477.35,71.41 475.60,74.63" fill="#36204d"/>
<polygon points="472.25,87.61 475.75,87.61 474.00,90.83" fill="#36204d"/>
<polygon points="467.75,90.31 471.25,90.31 469.50,93.53" fill="#36204d"/>
<polygon points="474.05,93.01 477.55,93.01 475.80,96.23" fill="#36204d"/>
<polygon points="465.45,94.41 468.95,94.41 467.20,97.63" fill="#36204d"/>
<polygon points="469.75,95.71 473.25,95.71 471.50,98.93" fill="#36204d"/>
<polygon points="465.05,99.81 468.55,99.81 466.80,103.03" fill="#36204d"/>
<polygon points="473.85,99.81 477.35,99.81 475.60,103.03" fill="#36204d"/>
<polygon points="469.75,102.51 473.25,102.51 471.50,105.73" fill="#36204d"/>
<polygon points="469.75,116.21 473.25,116.21 471.50,119.43" fill="#36204d"/>
<polygon points="469.75,136.01 473.25,136.01 471.50,139.23" fill="#36204d"/>
<polygon points="496.10,118.20 498.00,120.10 496.10,122.00 494.20,120.10" fill="#f5c878" stroke="#dc9026" stroke-width="0.85"/>
<polygon points="498.20,128.00 500.10,129.90 498.20,131.80 496.30,129.90" fill="#f5c878" stroke="#dc9026" stroke-width="0.85"/>
<polygon points="495.00,122.50 496.90,124.40 495.00,126.30 493.10,124.40" fill="#f5c878" stroke="#dc9026" stroke-width="0.85"/>
<polygon points="500.50,122.50 502.40,124.40 500.50,126.30 498.60,124.40" fill="#f5c878" stroke="#dc9026" stroke-width="0.85"/>
<line x1="498.00" y1="123.20" x2="498.00" y2="126.20" stroke="#111" stroke-width="1.5"/>
<line x1="493.25" y1="123.20" x2="502.75" y2="123.20" stroke="#111" stroke-width="1.5"/>
<line x1="493.25" y1="126.20" x2="502.75" y2="126.20" stroke="#111" stroke-width="1.5"/>
<line x1="489.40" y1="124.40" x2="506.60" y2="124.40" stroke="#111" stroke-width="1.5"/>
<text x="7.70" y="239.20" font-size="12" text-anchor="start" font-weight="bold" fill="#111">D</text>
<text x="93.9" y="240.9" font-size="11.1" fill="#1e1e1e"><tspan>CD34</tspan><tspan font-size="7" dy="-3.4">+</tspan></text>
<line x1="45.60" y1="264.40" x2="45.60" y2="382.30" stroke="#111" stroke-width="1.5"/>
<line x1="42.60" y1="382.30" x2="175.20" y2="382.30" stroke="#111" stroke-width="1.5"/>
<line x1="42.40" y1="382.30" x2="45.60" y2="382.30" stroke="#111" stroke-width="1.3"/>
<text x="38.20" y="385.40" font-size="8.7" text-anchor="end" font-weight="normal" fill="#1e1e1e">0</text>
<line x1="42.40" y1="359.28" x2="45.60" y2="359.28" stroke="#111" stroke-width="1.3"/>
<text x="38.20" y="362.38" font-size="8.7" text-anchor="end" font-weight="normal" fill="#1e1e1e">20</text>
<line x1="42.40" y1="336.26" x2="45.60" y2="336.26" stroke="#111" stroke-width="1.3"/>
<text x="38.20" y="339.36" font-size="8.7" text-anchor="end" font-weight="normal" fill="#1e1e1e">40</text>
<line x1="42.40" y1="313.24" x2="45.60" y2="313.24" stroke="#111" stroke-width="1.3"/>
<text x="38.20" y="316.34" font-size="8.7" text-anchor="end" font-weight="normal" fill="#1e1e1e">60</text>
<line x1="42.40" y1="290.22" x2="45.60" y2="290.22" stroke="#111" stroke-width="1.3"/>
<text x="38.20" y="293.32" font-size="8.7" text-anchor="end" font-weight="normal" fill="#1e1e1e">80</text>
<line x1="42.40" y1="267.20" x2="45.60" y2="267.20" stroke="#111" stroke-width="1.3"/>
<text x="38.20" y="270.30" font-size="8.7" text-anchor="end" font-weight="normal" fill="#1e1e1e">100</text>
<line x1="61.50" y1="382.30" x2="61.50" y2="385.90" stroke="#111" stroke-width="1.3"/>
<line x1="93.70" y1="382.30" x2="93.70" y2="385.90" stroke="#111" stroke-width="1.3"/>
<line x1="125.90" y1="382.30" x2="125.90" y2="385.90" stroke="#111" stroke-width="1.3"/>
<line x1="158.10" y1="382.30" x2="158.10" y2="385.90" stroke="#111" stroke-width="1.3"/>
<text transform="translate(63.50,392.90) rotate(-45)" font-size="9.5" text-anchor="end" fill="#1e1e1e">Healthy(n=28)</text>
<text transform="translate(95.70,392.90) rotate(-45)" font-size="9.5" text-anchor="end" fill="#1e1e1e">CP Diag (n=13)</text>
<text transform="translate(127.90,392.90) rotate(-45)" font-size="9.5" text-anchor="end" fill="#1e1e1e">RES (n=13)</text>
<text transform="translate(160.10,392.90) rotate(-45)" font-size="9.5" text-anchor="end" fill="#1e1e1e">CCyR (n=12)</text>
<text transform="translate(16.30,323.20) rotate(-90)" font-size="9.8" text-anchor="middle" fill="#1e1e1e">% BMPR1b positive cells</text>
<line x1="53.30" y1="255.00" x2="129.60" y2="255.00" stroke="#111" stroke-width="1.5"/>
<circle cx="90.55" cy="249.30" r="1.45" fill="#1a1a1a"/>
<circle cx="94.85" cy="249.30" r="1.45" fill="#1a1a1a"/>
<line x1="124.60" y1="259.40" x2="163.00" y2="259.40" stroke="#111" stroke-width="1.5"/>
<circle cx="147.90" cy="253.90" r="1.45" fill="#1a1a1a"/>
<circle cx="61.30" cy="282.30" r="1.45" fill="#eef5fc" stroke="#6f9ccc" stroke-width="1.05"/>
<circle cx="63.50" cy="286.30" r="1.45" fill="#eef5fc" stroke="#6f9ccc" stroke-width="1.05"/>
<circle cx="59.00" cy="290.80" r="1.45" fill="#eef5fc" stroke="#6f9ccc" stroke-width="1.05"/>
<circle cx="61.30" cy="299.80" r="1.45" fill="#eef5fc" stroke="#6f9ccc" stroke-width="1.05"/>
<circle cx="61.30" cy="307.10" r="1.45" fill="#eef5fc" stroke="#6f9ccc" stroke-width="1.05"/>
<circle cx="61.30" cy="316.90" r="1.45" fill="#eef5fc" stroke="#6f9ccc" stroke-width="1.05"/>
<circle cx="56.80" cy="332.70" r="1.45" fill="#eef5fc" stroke="#6f9ccc" stroke-width="1.05"/>
<circle cx="61.50" cy="336.10" r="1.45" fill="#eef5fc" stroke="#6f9ccc" stroke-width="1.05"/>
<circle cx="65.80" cy="334.70" r="1.45" fill="#eef5fc" stroke="#6f9ccc" stroke-width="1.05"/>
<circle cx="59.10" cy="341.90" r="1.45" fill="#eef5fc" stroke="#6f9ccc" stroke-width="1.05"/>
<circle cx="63.50" cy="343.20" r="1.45" fill="#eef5fc" stroke="#6f9ccc" stroke-width="1.05"/>
<circle cx="63.50" cy="348.20" r="1.45" fill="#eef5fc" stroke="#6f9ccc" stroke-width="1.05"/>
<circle cx="57.20" cy="352.70" r="1.45" fill="#eef5fc" stroke="#6f9ccc" stroke-width="1.05"/>
<circle cx="59.50" cy="356.40" r="1.45" fill="#eef5fc" stroke="#6f9ccc" stroke-width="1.05"/>
<circle cx="63.50" cy="359.50" r="1.45" fill="#eef5fc" stroke="#6f9ccc" stroke-width="1.05"/>
<circle cx="61.50" cy="365.80" r="1.45" fill="#eef5fc" stroke="#6f9ccc" stroke-width="1.05"/>
<circle cx="65.80" cy="373.40" r="1.45" fill="#eef5fc" stroke="#6f9ccc" stroke-width="1.05"/>
<circle cx="52.70" cy="377.00" r="1.45" fill="#eef5fc" stroke="#6f9ccc" stroke-width="1.05"/>
<circle cx="54.80" cy="376.40" r="1.45" fill="#eef5fc" stroke="#6f9ccc" stroke-width="1.05"/>
<circle cx="61.50" cy="376.60" r="1.45" fill="#eef5fc" stroke="#6f9ccc" stroke-width="1.05"/>
<circle cx="53.00" cy="380.40" r="1.45" fill="#eef5fc" stroke="#6f9ccc" stroke-width="1.05"/>
<circle cx="56.50" cy="380.60" r="1.45" fill="#eef5fc" stroke="#6f9ccc" stroke-width="1.05"/>
<circle cx="59.50" cy="380.80" r="1.45" fill="#eef5fc" stroke="#6f9ccc" stroke-width="1.05"/>
<circle cx="62.50" cy="380.80" r="1.45" fill="#eef5fc" stroke="#6f9ccc" stroke-width="1.05"/>
<circle cx="65.50" cy="380.60" r="1.45" fill="#eef5fc" stroke="#6f9ccc" stroke-width="1.05"/>
<circle cx="68.50" cy="380.40" r="1.45" fill="#eef5fc" stroke="#6f9ccc" stroke-width="1.05"/>
<circle cx="71.00" cy="380.20" r="1.45" fill="#eef5fc" stroke="#6f9ccc" stroke-width="1.05"/>
<line x1="50.40" y1="350.40" x2="72.00" y2="350.40" stroke="#111" stroke-width="1.6"/>
<line x1="93.70" y1="344.90" x2="93.70" y2="365.00" stroke="#111" stroke-width="1.5"/>
<line x1="87.85" y1="344.90" x2="99.55" y2="344.90" stroke="#111" stroke-width="1.5"/>
<line x1="87.85" y1="365.00" x2="99.55" y2="365.00" stroke="#111" stroke-width="1.5"/>
<line x1="83.05" y1="355.20" x2="104.35" y2="355.20" stroke="#111" stroke-width="1.5"/>
<rect x="92.40" y="274.90" width="2.8" height="2.8" fill="#2d4b80"/>
<rect x="92.40" y="287.80" width="2.8" height="2.8" fill="#2d4b80"/>
<rect x="92.40" y="331.30" width="2.8" height="2.8" fill="#2d4b80"/>
<rect x="90.30" y="356.80" width="2.8" height="2.8" fill="#2d4b80"/>
<rect x="87.70" y="365.10" width="2.8" height="2.8" fill="#2d4b80"/>
<rect x="90.10" y="365.10" width="2.8" height="2.8" fill="#2d4b80"/>
<rect x="92.80" y="365.10" width="2.8" height="2.8" fill="#2d4b80"/>
<rect x="96.80" y="363.10" width="2.8" height="2.8" fill="#2d4b80"/>
<rect x="83.10" y="378.60" width="2.8" height="2.8" fill="#2d4b80"/>
<rect x="86.60" y="379.60" width="2.8" height="2.8" fill="#2d4b80"/>
<rect x="90.10" y="379.60" width="2.8" height="2.8" fill="#2d4b80"/>
<rect x="93.60" y="379.60" width="2.8" height="2.8" fill="#2d4b80"/>
<rect x="97.10" y="379.60" width="2.8" height="2.8" fill="#2d4b80"/>
<rect x="101.10" y="379.10" width="2.8" height="2.8" fill="#2d4b80"/>
<line x1="125.90" y1="315.50" x2="125.90" y2="340.20" stroke="#111" stroke-width="1.5"/>
<line x1="120.15" y1="315.50" x2="131.65" y2="315.50" stroke="#111" stroke-width="1.5"/>
<line x1="120.15" y1="340.20" x2="131.65" y2="340.20" stroke="#111" stroke-width="1.5"/>
<line x1="115.15" y1="327.80" x2="136.65" y2="327.80" stroke="#111" stroke-width="1.5"/>
<polygon points="124.65,265.41 128.15,265.41 126.40,268.63" fill="#36204d"/>
<polygon points="124.65,270.81 128.15,270.81 126.40,274.03" fill="#36204d"/>
<polygon points="124.65,276.21 128.15,276.21 126.40,279.43" fill="#36204d"/>
<polygon points="124.65,284.41 128.15,284.41 126.40,287.63" fill="#36204d"/>
<polygon points="124.45,301.01 127.95,301.01 126.20,304.23" fill="#36204d"/>
<polygon points="124.45,306.41 127.95,306.41 126.20,309.63" fill="#36204d"/>
<polygon points="124.45,321.31 127.95,321.31 126.20,324.53" fill="#36204d"/>
<polygon points="124.45,344.71 127.95,344.71 126.20,347.93" fill="#36204d"/>
<polygon points="122.15,366.11 125.65,366.11 123.90,369.33" fill="#36204d"/>
<polygon points="127.15,370.01 130.65,370.01 128.90,373.23" fill="#36204d"/>
<polygon points="120.25,377.21 123.75,377.21 122.00,380.43" fill="#36204d"/>
<polygon points="124.05,378.71 127.55,378.71 125.80,381.93" fill="#36204d"/>
<polygon points="129.05,378.21 132.55,378.21 130.80,381.43" fill="#36204d"/>
<line x1="158.10" y1="347.60" x2="158.10" y2="367.40" stroke="#111" stroke-width="1.5"/>
<line x1="152.25" y1="347.60" x2="163.95" y2="347.60" stroke="#111" stroke-width="1.5"/>
<line x1="152.25" y1="367.40" x2="163.95" y2="367.40" stroke="#111" stroke-width="1.5"/>
<line x1="147.40" y1="357.70" x2="168.80" y2="357.70" stroke="#111" stroke-width="1.5"/>
<polygon points="158.00,277.80 160.00,279.80 158.00,281.80 156.00,279.80" fill="#f8e0b0" stroke="#d6993a" stroke-width="0.9"/>
<polygon points="158.00,300.00 160.00,302.00 158.00,304.00 156.00,302.00" fill="#f8e0b0" stroke="#d6993a" stroke-width="0.9"/>
<polygon points="158.00,331.00 160.00,333.00 158.00,335.00 156.00,333.00" fill="#f8e0b0" stroke="#d6993a" stroke-width="0.9"/>
<polygon points="158.20,351.20 160.20,353.20 158.20,355.20 156.20,353.20" fill="#f8e0b0" stroke="#d6993a" stroke-width="0.9"/>
<polygon points="149.10,376.00 151.10,378.00 149.10,380.00 147.10,378.00" fill="#f8e0b0" stroke="#d6993a" stroke-width="0.9"/>
<polygon points="153.60,370.40 155.60,372.40 153.60,374.40 151.60,372.40" fill="#f8e0b0" stroke="#d6993a" stroke-width="0.9"/>
<polygon points="156.40,371.20 158.40,373.20 156.40,375.20 154.40,373.20" fill="#f8e0b0" stroke="#d6993a" stroke-width="0.9"/>
<polygon points="159.20,371.40 161.20,373.40 159.20,375.40 157.20,373.40" fill="#f8e0b0" stroke="#d6993a" stroke-width="0.9"/>
<polygon points="162.80,368.40 164.80,370.40 162.80,372.40 160.80,370.40" fill="#f8e0b0" stroke="#d6993a" stroke-width="0.9"/>
<polygon points="153.50,379.40 155.50,381.40 153.50,383.40 151.50,381.40" fill="#f8e0b0" stroke="#d6993a" stroke-width="0.9"/>
<polygon points="157.00,379.60 159.00,381.60 157.00,383.60 155.00,381.60" fill="#f8e0b0" stroke="#d6993a" stroke-width="0.9"/>
<polygon points="160.50,379.60 162.50,381.60 160.50,383.60 158.50,381.60" fill="#f8e0b0" stroke="#d6993a" stroke-width="0.9"/>
<polygon points="164.00,379.50 166.00,381.50 164.00,383.50 162.00,381.50" fill="#f8e0b0" stroke="#d6993a" stroke-width="0.9"/>
<polygon points="167.00,379.30 169.00,381.30 167.00,383.30 165.00,381.30" fill="#f8e0b0" stroke="#d6993a" stroke-width="0.9"/>
<text x="193.50" y="239.20" font-size="12" text-anchor="start" font-weight="bold" fill="#111">E</text>
<text x="254.6" y="240.9" font-size="11.1" fill="#1e1e1e">CD34<tspan font-size="7" dx="0.5" dy="-3.4">+</tspan><tspan dx="1.3" dy="3.4">CD38</tspan><tspan font-size="6" dx="0.2" dy="-5.2">-</tspan></text>
<line x1="231.50" y1="265.60" x2="231.50" y2="382.20" stroke="#111" stroke-width="1.5"/>
<line x1="228.50" y1="382.20" x2="344.00" y2="382.20" stroke="#111" stroke-width="1.5"/>
<line x1="228.30" y1="382.20" x2="231.50" y2="382.20" stroke="#111" stroke-width="1.3"/>
<text x="224.10" y="385.30" font-size="8.7" text-anchor="end" font-weight="normal" fill="#1e1e1e">0</text>
<line x1="228.30" y1="359.44" x2="231.50" y2="359.44" stroke="#111" stroke-width="1.3"/>
<text x="224.10" y="362.54" font-size="8.7" text-anchor="end" font-weight="normal" fill="#1e1e1e">20</text>
<line x1="228.30" y1="336.68" x2="231.50" y2="336.68" stroke="#111" stroke-width="1.3"/>
<text x="224.10" y="339.78" font-size="8.7" text-anchor="end" font-weight="normal" fill="#1e1e1e">40</text>
<line x1="228.30" y1="313.92" x2="231.50" y2="313.92" stroke="#111" stroke-width="1.3"/>
<text x="224.10" y="317.02" font-size="8.7" text-anchor="end" font-weight="normal" fill="#1e1e1e">60</text>
<line x1="228.30" y1="291.16" x2="231.50" y2="291.16" stroke="#111" stroke-width="1.3"/>
<text x="224.10" y="294.26" font-size="8.7" text-anchor="end" font-weight="normal" fill="#1e1e1e">80</text>
<line x1="228.30" y1="268.40" x2="231.50" y2="268.40" stroke="#111" stroke-width="1.3"/>
<text x="224.10" y="271.50" font-size="8.7" text-anchor="end" font-weight="normal" fill="#1e1e1e">100</text>
<line x1="245.50" y1="382.20" x2="245.50" y2="385.80" stroke="#111" stroke-width="1.3"/>
<line x1="273.95" y1="382.20" x2="273.95" y2="385.80" stroke="#111" stroke-width="1.3"/>
<line x1="302.40" y1="382.20" x2="302.40" y2="385.80" stroke="#111" stroke-width="1.3"/>
<line x1="330.85" y1="382.20" x2="330.85" y2="385.80" stroke="#111" stroke-width="1.3"/>
<text transform="translate(247.50,392.80) rotate(-45)" font-size="9.5" text-anchor="end" fill="#1e1e1e">NBM (n=22)</text>
<text transform="translate(275.95,392.80) rotate(-45)" font-size="9.5" text-anchor="end" fill="#1e1e1e">CP Diag (n=11)</text>
<text transform="translate(304.40,392.80) rotate(-45)" font-size="9.5" text-anchor="end" fill="#1e1e1e">RES (n=9)</text>
<text transform="translate(332.85,392.80) rotate(-45)" font-size="9.5" text-anchor="end" fill="#1e1e1e">CCyR (n=7)</text>
<text transform="translate(202.40,323.70) rotate(-90)" font-size="9.8" text-anchor="middle" fill="#1e1e1e">% BMPR1b positive cells</text>
<line x1="241.00" y1="263.80" x2="300.80" y2="263.80" stroke="#111" stroke-width="1.5"/>
<circle cx="268.05" cy="257.90" r="1.45" fill="#1a1a1a"/>
<circle cx="272.35" cy="257.90" r="1.45" fill="#1a1a1a"/>
<line x1="241.50" y1="275.20" x2="277.00" y2="275.20" stroke="#111" stroke-width="1.5"/>
<circle cx="260.60" cy="270.30" r="1.45" fill="#1a1a1a"/>
<circle cx="245.40" cy="299.20" r="1.45" fill="#fff" stroke="#3f5f50" stroke-width="1.05"/>
<circle cx="245.40" cy="320.00" r="1.45" fill="#fff" stroke="#3f5f50" stroke-width="1.05"/>
<circle cx="245.40" cy="331.30" r="1.45" fill="#fff" stroke="#3f5f50" stroke-width="1.05"/>
<circle cx="243.40" cy="358.50" r="1.45" fill="#fff" stroke="#3f5f50" stroke-width="1.05"/>
<circle cx="247.70" cy="359.30" r="1.45" fill="#fff" stroke="#3f5f50" stroke-width="1.05"/>
<line x1="245.50" y1="364.20" x2="245.50" y2="373.80" stroke="#111" stroke-width="1.5"/>
<line x1="240.80" y1="364.20" x2="250.20" y2="364.20" stroke="#111" stroke-width="1.5"/>
<line x1="240.80" y1="373.80" x2="250.20" y2="373.80" stroke="#111" stroke-width="1.5"/>
<line x1="236.25" y1="368.90" x2="254.75" y2="368.90" stroke="#111" stroke-width="1.5"/>
<circle cx="240.00" cy="375.80" r="1.4" fill="#4f8d70" stroke="#2b684b" stroke-width="0.85"/>
<circle cx="243.20" cy="374.60" r="1.4" fill="#4f8d70" stroke="#2b684b" stroke-width="0.85"/>
<circle cx="246.40" cy="375.40" r="1.4" fill="#4f8d70" stroke="#2b684b" stroke-width="0.85"/>
<circle cx="249.60" cy="374.60" r="1.4" fill="#4f8d70" stroke="#2b684b" stroke-width="0.85"/>
<circle cx="252.40" cy="376.00" r="1.4" fill="#4f8d70" stroke="#2b684b" stroke-width="0.85"/>
<circle cx="238.50" cy="379.40" r="1.4" fill="#4f8d70" stroke="#2b684b" stroke-width="0.85"/>
<circle cx="241.30" cy="378.60" r="1.4" fill="#4f8d70" stroke="#2b684b" stroke-width="0.85"/>
<circle cx="244.10" cy="379.40" r="1.4" fill="#4f8d70" stroke="#2b684b" stroke-width="0.85"/>
<circle cx="246.90" cy="378.60" r="1.4" fill="#4f8d70" stroke="#2b684b" stroke-width="0.85"/>
<circle cx="249.70" cy="379.40" r="1.4" fill="#4f8d70" stroke="#2b684b" stroke-width="0.85"/>
<circle cx="252.50" cy="378.80" r="1.4" fill="#4f8d70" stroke="#2b684b" stroke-width="0.85"/>
<circle cx="240.00" cy="381.20" r="1.4" fill="#4f8d70" stroke="#2b684b" stroke-width="0.85"/>
<circle cx="242.80" cy="381.40" r="1.4" fill="#4f8d70" stroke="#2b684b" stroke-width="0.85"/>
<circle cx="245.60" cy="381.20" r="1.4" fill="#4f8d70" stroke="#2b684b" stroke-width="0.85"/>
<circle cx="248.40" cy="381.40" r="1.4" fill="#4f8d70" stroke="#2b684b" stroke-width="0.85"/>
<circle cx="251.20" cy="381.20" r="1.4" fill="#4f8d70" stroke="#2b684b" stroke-width="0.85"/>
<circle cx="253.60" cy="381.00" r="1.4" fill="#4f8d70" stroke="#2b684b" stroke-width="0.85"/>
<line x1="273.95" y1="339.20" x2="273.95" y2="358.40" stroke="#111" stroke-width="1.5"/>
<line x1="269.60" y1="339.20" x2="278.30" y2="339.20" stroke="#111" stroke-width="1.5"/>
<line x1="269.60" y1="358.40" x2="278.30" y2="358.40" stroke="#111" stroke-width="1.5"/>
<line x1="264.50" y1="349.60" x2="283.40" y2="349.60" stroke="#111" stroke-width="1.5"/>
<rect x="272.40" y="285.30" width="2.8" height="2.8" fill="#2d4b80"/>
<rect x="272.40" y="292.40" width="2.8" height="2.8" fill="#2d4b80"/>
<rect x="272.40" y="317.60" width="2.8" height="2.8" fill="#2d4b80"/>
<rect x="272.40" y="356.20" width="2.8" height="2.8" fill="#2d4b80"/>
<rect x="272.10" y="362.60" width="2.8" height="2.8" fill="#2d4b80"/>
<rect x="272.10" y="372.50" width="2.8" height="2.8" fill="#2d4b80"/>
<rect x="267.80" y="376.60" width="2.8" height="2.8" fill="#2d4b80"/>
<rect x="276.80" y="376.60" width="2.8" height="2.8" fill="#2d4b80"/>
<rect x="272.10" y="380.10" width="2.8" height="2.8" fill="#2d4b80"/>
<line x1="302.40" y1="341.90" x2="302.40" y2="359.10" stroke="#111" stroke-width="1.5"/>
<line x1="298.00" y1="341.90" x2="306.80" y2="341.90" stroke="#111" stroke-width="1.5"/>
<line x1="298.00" y1="359.10" x2="306.80" y2="359.10" stroke="#111" stroke-width="1.5"/>
<line x1="293.25" y1="350.30" x2="311.55" y2="350.30" stroke="#111" stroke-width="1.5"/>
<polygon points="300.00,294.15 303.40,294.15 301.70,297.28" fill="#36204d"/>
<polygon points="300.50,329.05 303.90,329.05 302.20,332.18" fill="#36204d"/>
<polygon points="300.50,337.55 303.90,337.55 302.20,340.68" fill="#36204d"/>
<polygon points="302.20,353.75 305.60,353.75 303.90,356.88" fill="#36204d"/>
<polygon points="300.50,369.95 303.90,369.95 302.20,373.08" fill="#36204d"/>
<polygon points="297.80,374.75 301.20,374.75 299.50,377.88" fill="#36204d"/>
<polygon points="303.20,374.75 306.60,374.75 304.90,377.88" fill="#36204d"/>
<polygon points="300.30,379.75 303.70,379.75 302.00,382.88" fill="#36204d"/>
<line x1="330.85" y1="359.50" x2="330.85" y2="374.10" stroke="#111" stroke-width="1.5"/>
<line x1="325.65" y1="359.50" x2="336.05" y2="359.50" stroke="#111" stroke-width="1.5"/>
<line x1="325.65" y1="374.10" x2="336.05" y2="374.10" stroke="#111" stroke-width="1.5"/>
<line x1="321.40" y1="366.50" x2="340.30" y2="366.50" stroke="#111" stroke-width="1.5"/>
<polygon points="330.40,323.60 332.40,325.60 330.40,327.60 328.40,325.60" fill="#f8e0b0" stroke="#d6993a" stroke-width="0.9"/>
<polygon points="325.80,371.20 327.80,373.20 325.80,375.20 323.80,373.20" fill="#f8e0b0" stroke="#d6993a" stroke-width="0.9"/>
<polygon points="334.40,369.60 336.40,371.60 334.40,373.60 332.40,371.60" fill="#f8e0b0" stroke="#d6993a" stroke-width="0.9"/>
<polygon points="329.40,377.70 331.40,379.70 329.40,381.70 327.40,379.70" fill="#f8e0b0" stroke="#d6993a" stroke-width="0.9"/>
<polygon points="331.70,376.80 333.70,378.80 331.70,380.80 329.70,378.80" fill="#f8e0b0" stroke="#d6993a" stroke-width="0.9"/>
<text x="362.00" y="239.20" font-size="12" text-anchor="start" font-weight="bold" fill="#111">F</text>
<text x="422.9" y="240.9" font-size="11.1" fill="#1e1e1e"><tspan>CD34</tspan><tspan font-size="7" dy="-3.4">+</tspan><tspan dy="3.4">CD38</tspan><tspan font-size="7" dy="-3.4">+</tspan></text>
<line x1="400.20" y1="266.90" x2="400.20" y2="382.50" stroke="#111" stroke-width="1.5"/>
<line x1="397.20" y1="382.50" x2="511.70" y2="382.50" stroke="#111" stroke-width="1.5"/>
<line x1="397.00" y1="382.50" x2="400.20" y2="382.50" stroke="#111" stroke-width="1.3"/>
<text x="392.80" y="385.60" font-size="8.7" text-anchor="end" font-weight="normal" fill="#1e1e1e">0</text>
<line x1="397.00" y1="359.94" x2="400.20" y2="359.94" stroke="#111" stroke-width="1.3"/>
<text x="392.80" y="363.04" font-size="8.7" text-anchor="end" font-weight="normal" fill="#1e1e1e">20</text>
<line x1="397.00" y1="337.38" x2="400.20" y2="337.38" stroke="#111" stroke-width="1.3"/>
<text x="392.80" y="340.48" font-size="8.7" text-anchor="end" font-weight="normal" fill="#1e1e1e">40</text>
<line x1="397.00" y1="314.82" x2="400.20" y2="314.82" stroke="#111" stroke-width="1.3"/>
<text x="392.80" y="317.92" font-size="8.7" text-anchor="end" font-weight="normal" fill="#1e1e1e">60</text>
<line x1="397.00" y1="292.26" x2="400.20" y2="292.26" stroke="#111" stroke-width="1.3"/>
<text x="392.80" y="295.36" font-size="8.7" text-anchor="end" font-weight="normal" fill="#1e1e1e">80</text>
<line x1="397.00" y1="269.70" x2="400.20" y2="269.70" stroke="#111" stroke-width="1.3"/>
<text x="392.80" y="272.80" font-size="8.7" text-anchor="end" font-weight="normal" fill="#1e1e1e">100</text>
<line x1="414.00" y1="382.50" x2="414.00" y2="386.10" stroke="#111" stroke-width="1.3"/>
<line x1="442.00" y1="382.50" x2="442.00" y2="386.10" stroke="#111" stroke-width="1.3"/>
<line x1="470.00" y1="382.50" x2="470.00" y2="386.10" stroke="#111" stroke-width="1.3"/>
<line x1="498.00" y1="382.50" x2="498.00" y2="386.10" stroke="#111" stroke-width="1.3"/>
<text transform="translate(416.00,393.10) rotate(-45)" font-size="9.5" text-anchor="end" fill="#1e1e1e">NBM (n=22)</text>
<text transform="translate(444.00,393.10) rotate(-45)" font-size="9.5" text-anchor="end" fill="#1e1e1e">CP Diag (n=11)</text>
<text transform="translate(472.00,393.10) rotate(-45)" font-size="9.5" text-anchor="end" fill="#1e1e1e">RES (n=9)</text>
<text transform="translate(500.00,393.10) rotate(-45)" font-size="9.5" text-anchor="end" fill="#1e1e1e">CCyR (n=7)</text>
<text transform="translate(371.60,324.20) rotate(-90)" font-size="9.8" text-anchor="middle" fill="#1e1e1e">% BMPR1b positive cells</text>
<circle cx="414.00" cy="281.20" r="1.45" fill="#fff" stroke="#3f5f50" stroke-width="1.05"/>
<circle cx="414.00" cy="322.00" r="1.45" fill="#fff" stroke="#3f5f50" stroke-width="1.05"/>
<circle cx="411.70" cy="353.10" r="1.45" fill="#fff" stroke="#3f5f50" stroke-width="1.05"/>
<circle cx="416.30" cy="351.90" r="1.45" fill="#fff" stroke="#3f5f50" stroke-width="1.05"/>
<circle cx="411.20" cy="359.30" r="1.45" fill="#fff" stroke="#3f5f50" stroke-width="1.05"/>
<circle cx="415.90" cy="359.80" r="1.45" fill="#fff" stroke="#3f5f50" stroke-width="1.05"/>
<circle cx="416.30" cy="364.40" r="1.45" fill="#fff" stroke="#3f5f50" stroke-width="1.05"/>
<circle cx="411.20" cy="368.10" r="1.45" fill="#fff" stroke="#3f5f50" stroke-width="1.05"/>
<circle cx="418.20" cy="374.10" r="1.45" fill="#fff" stroke="#3f5f50" stroke-width="1.05"/>
<circle cx="410.30" cy="375.90" r="1.45" fill="#fff" stroke="#3f5f50" stroke-width="1.05"/>
<circle cx="414.00" cy="375.90" r="1.45" fill="#fff" stroke="#3f5f50" stroke-width="1.05"/>
<circle cx="418.20" cy="376.90" r="1.45" fill="#fff" stroke="#3f5f50" stroke-width="1.05"/>
<circle cx="420.90" cy="379.60" r="1.45" fill="#fff" stroke="#3f5f50" stroke-width="1.05"/>
<line x1="414.00" y1="361.80" x2="414.00" y2="372.20" stroke="#111" stroke-width="1.5"/>
<line x1="409.25" y1="361.80" x2="418.75" y2="361.80" stroke="#111" stroke-width="1.5"/>
<line x1="409.25" y1="372.20" x2="418.75" y2="372.20" stroke="#111" stroke-width="1.5"/>
<line x1="404.55" y1="366.90" x2="423.45" y2="366.90" stroke="#111" stroke-width="1.5"/>
<circle cx="406.50" cy="380.00" r="1.4" fill="#a9cbb9" stroke="#2b684b" stroke-width="0.85"/>
<circle cx="409.30" cy="379.20" r="1.4" fill="#a9cbb9" stroke="#2b684b" stroke-width="0.85"/>
<circle cx="412.10" cy="380.00" r="1.4" fill="#a9cbb9" stroke="#2b684b" stroke-width="0.85"/>
<circle cx="414.90" cy="379.20" r="1.4" fill="#a9cbb9" stroke="#2b684b" stroke-width="0.85"/>
<circle cx="417.70" cy="380.30" r="1.4" fill="#a9cbb9" stroke="#2b684b" stroke-width="0.85"/>
<circle cx="408.00" cy="381.60" r="1.4" fill="#a9cbb9" stroke="#2b684b" stroke-width="0.85"/>
<circle cx="410.80" cy="381.60" r="1.4" fill="#a9cbb9" stroke="#2b684b" stroke-width="0.85"/>
<circle cx="413.60" cy="381.60" r="1.4" fill="#a9cbb9" stroke="#2b684b" stroke-width="0.85"/>
<circle cx="416.40" cy="381.60" r="1.4" fill="#a9cbb9" stroke="#2b684b" stroke-width="0.85"/>
<circle cx="419.20" cy="381.50" r="1.4" fill="#a9cbb9" stroke="#2b684b" stroke-width="0.85"/>
<circle cx="422.00" cy="380.80" r="1.4" fill="#a9cbb9" stroke="#2b684b" stroke-width="0.85"/>
<line x1="442.00" y1="346.30" x2="442.00" y2="367.60" stroke="#111" stroke-width="1.5"/>
<line x1="437.40" y1="346.30" x2="446.60" y2="346.30" stroke="#111" stroke-width="1.5"/>
<line x1="437.40" y1="367.60" x2="446.60" y2="367.60" stroke="#111" stroke-width="1.5"/>
<line x1="432.65" y1="356.80" x2="451.35" y2="356.80" stroke="#111" stroke-width="1.5"/>
<rect x="440.60" y="278.20" width="2.8" height="2.8" fill="#2d4b80"/>
<rect x="440.60" y="298.30" width="2.8" height="2.8" fill="#2d4b80"/>
<rect x="440.60" y="336.50" width="2.8" height="2.8" fill="#2d4b80"/>
<rect x="440.30" y="359.30" width="2.8" height="2.8" fill="#2d4b80"/>
<rect x="440.30" y="371.70" width="2.8" height="2.8" fill="#2d4b80"/>
<rect x="432.90" y="377.20" width="2.8" height="2.8" fill="#2d4b80"/>
<rect x="436.10" y="380.60" width="2.8" height="2.8" fill="#4a6fa8"/>
<rect x="439.10" y="380.80" width="2.8" height="2.8" fill="#4a6fa8"/>
<rect x="442.10" y="380.80" width="2.8" height="2.8" fill="#4a6fa8"/>
<rect x="445.10" y="380.80" width="2.8" height="2.8" fill="#4a6fa8"/>
<rect x="448.10" y="380.60" width="2.8" height="2.8" fill="#4a6fa8"/>
<line x1="470.00" y1="338.50" x2="470.00" y2="360.30" stroke="#111" stroke-width="1.5"/>
<line x1="465.45" y1="338.50" x2="474.55" y2="338.50" stroke="#111" stroke-width="1.5"/>
<line x1="465.45" y1="360.30" x2="474.55" y2="360.30" stroke="#111" stroke-width="1.5"/>
<line x1="461.15" y1="349.00" x2="478.85" y2="349.00" stroke="#111" stroke-width="1.5"/>
<polygon points="468.60,300.55 472.00,300.55 470.30,303.68" fill="#36204d"/>
<polygon points="464.60,310.65 468.00,310.65 466.30,313.78" fill="#36204d"/>
<polygon points="472.60,310.65 476.00,310.65 474.30,313.78" fill="#36204d"/>
<polygon points="468.10,363.75 471.50,363.75 469.80,366.88" fill="#36204d"/>
<polygon points="466.20,369.95 469.60,369.95 467.90,373.08" fill="#36204d"/>
<polygon points="470.50,373.15 473.90,373.15 472.20,376.28" fill="#36204d"/>
<polygon points="470.50,378.15 473.90,378.15 472.20,381.28" fill="#36204d"/>
<polygon points="466.80,380.25 470.20,380.25 468.50,383.38" fill="#36204d"/>
<line x1="498.00" y1="367.50" x2="498.00" y2="375.60" stroke="#111" stroke-width="1.5"/>
<line x1="493.40" y1="367.50" x2="502.60" y2="367.50" stroke="#111" stroke-width="1.5"/>
<line x1="493.40" y1="375.60" x2="502.60" y2="375.60" stroke="#111" stroke-width="1.5"/>
<line x1="488.85" y1="371.80" x2="507.15" y2="371.80" stroke="#111" stroke-width="1.5"/>
<polygon points="497.50,345.30 499.50,347.30 497.50,349.30 495.50,347.30" fill="#f8e0b0" stroke="#d6993a" stroke-width="0.9"/>
<polygon points="494.20,370.40 496.20,372.40 494.20,374.40 492.20,372.40" fill="#f8e0b0" stroke="#d6993a" stroke-width="0.9"/>
<polygon points="500.20,375.80 502.20,377.80 500.20,379.80 498.20,377.80" fill="#f8e0b0" stroke="#d6993a" stroke-width="0.9"/>
<polygon points="498.60,377.00 500.60,379.00 498.60,381.00 496.60,379.00" fill="#f8e0b0" stroke="#d6993a" stroke-width="0.9"/>
<polygon points="495.90,380.00 497.90,382.00 495.90,384.00 493.90,382.00" fill="#f8e0b0" stroke="#d6993a" stroke-width="0.9"/>
<rect x="0" y="0" width="520" height="444" fill="none" stroke="#000" stroke-width="3"/>
</svg>

</body></html>
